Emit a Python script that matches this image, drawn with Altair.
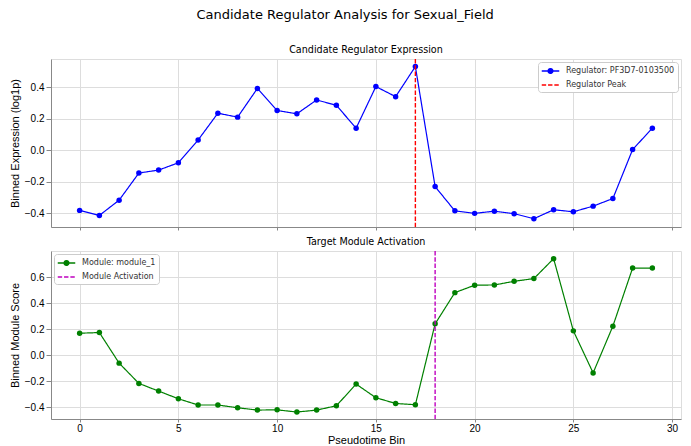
import altair as alt
import pandas as pd

# Pseudotime bins and the binned values along them
bins = list(range(30))

regulator_expr = [
    -0.383, -0.415, -0.318, -0.146, -0.127, -0.081, 0.064, 0.234, 0.209, 0.391,
    0.251, 0.230, 0.318, 0.284, 0.139, 0.403, 0.339, 0.530, -0.232, -0.386,
    -0.402, -0.388, -0.404, -0.436, -0.379, -0.392, -0.356, -0.308, 0.003, 0.139,
]

module_score = [
    0.171, 0.176, -0.059, -0.215, -0.274, -0.333, -0.381, -0.381, -0.402, -0.420,
    -0.418, -0.435, -0.420, -0.387, -0.220, -0.325, -0.369, -0.379, 0.243, 0.483,
    0.540, 0.542, 0.570, 0.591, 0.744, 0.189, -0.134, 0.225, 0.672, 0.672,
]

regulator_peak_bin = 17
module_activation_bin = 18

reg_label = "Regulator: PF3D7-0103500"
reg_peak_label = "Regulator Peak"
mod_label = "Module: module_1"
mod_act_label = "Module Activation"

FONT = "DejaVu Sans"
# legend glyphs: a line with a filled circle marker, and a plain line
LINE_MARKER = "M-1.75,0L1.75,0M0.48,0A0.48,0.48 0 1,1 -0.48,0A0.48,0.48 0 1,1 0.48,0Z"
LINE_ONLY = "M-1.75,0L1.75,0"
DASH = [4.4, 1.9]

x_scale = alt.Scale(domain=[-1.45, 30.45], nice=False, zero=False)


def panel(values, event_bin, line_label, event_label, line_color, event_color,
          y_title, y_domain, y_ticks, title, legend_orient, show_x_labels):
    series_df = pd.DataFrame({"bin": bins, "value": values, "series": line_label})
    event_df = pd.DataFrame({"bin": [event_bin], "series": [event_label]})

    domain = [line_label, event_label]
    legend = alt.Legend(
        title=None, orient=legend_orient, offset=3,
        fillColor="white", strokeColor="#cccccc", cornerRadius=3,
        padding=3, labelFont=FONT, labelFontSize=8, labelColor="#333333",
        symbolSize=100, symbolStrokeWidth=1.3, rowPadding=3,
        symbolOffset=3.5, labelOffset=9.5, symbolOpacity=1,
    )
    color = alt.Color(
        "series:N",
        scale=alt.Scale(domain=domain, range=[line_color, event_color]),
        legend=legend,
    )
    dash = alt.StrokeDash(
        "series:N",
        scale=alt.Scale(domain=domain, range=[[1, 0], DASH]),
        legend=legend,
    )
    shape = alt.Shape(
        "series:N",
        scale=alt.Scale(domain=domain, range=[LINE_MARKER, LINE_ONLY]),
        legend=legend,
    )

    x_enc = alt.X(
        "bin:Q", scale=x_scale,
        axis=alt.Axis(
            values=[0, 5, 10, 15, 20, 25, 30], labels=show_x_labels,
            title="Pseudotime Bin" if show_x_labels else None,
            titleFontWeight="normal", labelPadding=1, titlePadding=1,
            tickSize=3,
        ),
    )
    y_enc = alt.Y(
        "value:Q", scale=alt.Scale(domain=y_domain, nice=False, zero=False),
        axis=alt.Axis(values=y_ticks, format=".1f", title=y_title,
                      titleFontWeight="normal"),
    )

    line = alt.Chart(series_df).mark_line(strokeWidth=1.2).encode(
        x=x_enc, y=y_enc, color=color, strokeDash=dash,
    )
    pts = alt.Chart(series_df).mark_point(
        filled=True, size=30, opacity=1, shape="circle"
    ).encode(x=x_enc, y=y_enc, color=color)
    legend_shape = alt.Chart(event_df).mark_point(opacity=0).encode(
        color=color, shape=shape,
    )
    rule = alt.Chart(event_df).mark_rule(strokeWidth=1.4).encode(
        x=x_enc, color=color, strokeDash=dash,
    )
    return alt.layer(line, pts, rule, legend_shape).properties(
        width=630, height=168,
        title=alt.TitleParams(title, fontSize=9.6, font=FONT, fontWeight="normal",
                              color="black", offset=4),
    )


top = panel(regulator_expr, regulator_peak_bin, reg_label, reg_peak_label,
            "#0000ff", "#ff0000", "Binned Expression (log1p)", [-0.4885, 0.578],
            [-0.4, -0.2, 0.0, 0.2, 0.4], "Candidate Regulator Expression",
            "top-right", False)

bottom = panel(module_score, module_activation_bin, mod_label, mod_act_label,
               "#008000", "#bf00bf", "Binned Module Score", [-0.4885, 0.803],
               [-0.4, -0.2, 0.0, 0.2, 0.4, 0.6], "Target Module Activation",
               "top-left", True)

chart = alt.vconcat(top, bottom, spacing=5).resolve_scale(
    color="independent", strokeDash="independent", shape="independent",
).properties(
    title=alt.TitleParams(
        "Candidate Regulator Analysis for Sexual_Field",
        fontSize=13, font=FONT, fontWeight="normal", color="black",
        anchor="middle", offset=22,
    ),
    padding={"left": 8, "top": 9, "right": 8, "bottom": 0},
).configure_view(
    stroke="#555555", strokeWidth=1,
).configure_axis(
    labelFont=FONT, labelFontSize=8, labelColor="#222222",
    titleFont=FONT, titleFontSize=8, titleFontWeight="normal", titleColor="#222222",
    grid=True, gridColor="#b0b0b0", gridOpacity=0.55, gridWidth=0.8,
    domain=False, tickColor="#444444", tickSize=3, tickWidth=0.8,
    labelPadding=1, titlePadding=1,
).configure(background="white")

chart.save("out.html", embed_options={"renderer": "svg", "actions": False})
